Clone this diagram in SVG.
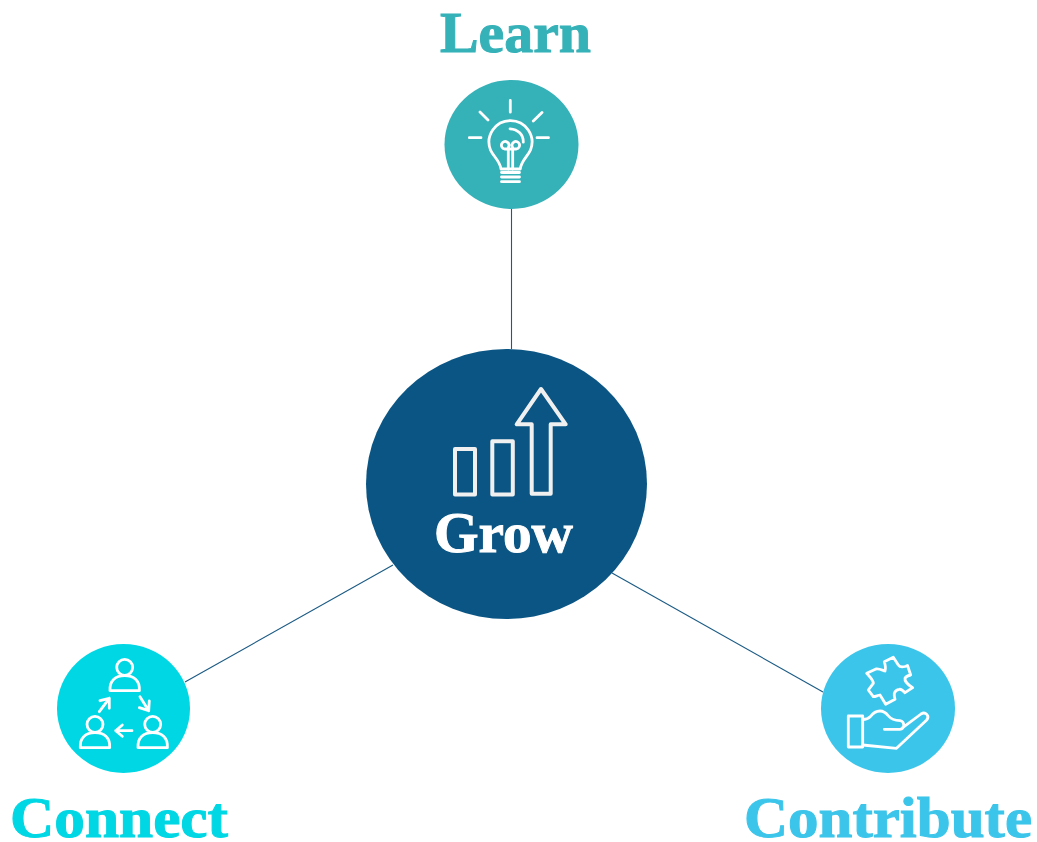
<svg xmlns="http://www.w3.org/2000/svg" width="1037" height="842" viewBox="0 0 1037 842">
<style>
.ico{fill:none;stroke:#fff;stroke-width:2.800;stroke-linecap:round;stroke-linejoin:round}
.link{stroke:#1a5a84;stroke-width:1.100;fill:none}
.lbl{font-family:"Liberation Serif","DejaVu Serif",serif;font-weight:700;stroke-width:1;paint-order:stroke}
</style>
<defs>
<g id="person"><circle cx="0" cy="0" r="8"/><path d="M-14.700 23.300C-15.200 13 -9 8.300 0 8.300S15.200 13 14.700 23.300Z"/></g>
</defs>
<rect width="1037" height="842" fill="#fff"/>
<g id="connectors">
<line class="link" x1="511.500" y1="209" x2="511.500" y2="349"/>
<line class="link" x1="393" y1="565" x2="185" y2="682"/>
<line class="link" x1="612" y1="573" x2="823" y2="692"/>
</g>
<g id="learn">
<text class="lbl" x="515.500" y="52" font-size="57" fill="#35b1b8" stroke="#35b1b8" text-anchor="middle" textLength="151" lengthAdjust="spacingAndGlyphs">Learn</text>
<ellipse cx="511.500" cy="144.500" rx="67" ry="64.500" fill="#35b1b8"/>
<g class="ico">
<path d="M510.300 100.500V112.200M480 112L488 120M542 112.500L533.300 121M469.300 137.700H481M537 137.700H548.500"/>
<path d="M501 169C500 161 493 156 490.500 150A21.500 21.500 0 1 1 530.500 150C528 156 521 161 520.300 169Z"/>
<path d="M501.500 172.500H519.500M501.500 177H519.500M501.500 181.700H519.500"/>
<path d="M510 128.800C518 129.300 523.500 134.500 523.300 142.200"/>
<path d="M508.300 169V147.500A3.800 3.800 0 1 0 504.500 149H516.500A3.800 3.800 0 1 0 512.700 147.500V169"/>
</g>
</g>
<g id="grow">
<ellipse cx="506.500" cy="484" rx="140.500" ry="135" fill="#0a5584"/>
<g fill="none" stroke="#f0f0f0" stroke-width="4" stroke-linejoin="round">
<rect x="455" y="449" width="20" height="45.500"/>
<rect x="492.300" y="441.300" width="20.500" height="53.200"/>
<path d="M541 389L516.700 424.300H531.700V493.800H550.700V424.300H565.700Z"/>
</g>
<text class="lbl" x="503.500" y="552" font-size="58" fill="#fff" stroke="#fff" text-anchor="middle" textLength="139" lengthAdjust="spacingAndGlyphs">Grow</text>
</g>
<g id="connect">
<text class="lbl" x="119" y="837" font-size="57" fill="#00d7e4" stroke="#00d7e4" text-anchor="middle" textLength="218" lengthAdjust="spacingAndGlyphs">Connect</text>
<ellipse cx="123.500" cy="708.500" rx="66.500" ry="64.500" fill="#00d7e4"/>
<g class="ico">
<use href="#person" x="124.700" y="667.300"/>
<use href="#person" x="95" y="724.300"/>
<use href="#person" x="152.700" y="724.300"/>
<path d="M99.300 711.700L109.300 698.300M100 700.700L109.300 698.300L109.300 708.300"/>
<path d="M140 696.700L148.700 710.700M139.300 707.700L148.700 710.700L149.300 701"/>
<path d="M132 730.700H115.700M122.300 725L115.700 730.700L122.300 736.300"/>
</g>
</g>
<g id="contribute">
<text class="lbl" x="888" y="837" font-size="57" fill="#3cc5ea" stroke="#3cc5ea" text-anchor="middle" textLength="288" lengthAdjust="spacingAndGlyphs">Contribute</text>
<ellipse cx="888" cy="708.500" rx="67" ry="64.500" fill="#3cc5ea"/>
<g class="ico" stroke-width="3">
<rect x="848.300" y="716" width="14.400" height="31"/>
<path d="M862.700 719.500C866 719.500 868.500 718.500 870.500 716.500C873 713 876 711 880 711C884 711 886.500 713.500 888.500 716C891 719 895 720.500 900 720.700C905 721.500 905 729.300 900 729.300H884.300M901.700 728.300L921 714C925.500 711 930 716 926.700 720L896.500 748.300L862.700 745"/>
<path d="M866.700 673.300L876 669C879 668.500 882 670 885 671C886 668 885 664 884.300 661.700L893.300 657.300L898.300 665C900 667.500 903 667 905 666.500L907.500 665.500L910.700 675C908 675.500 906 676.500 905 678.300C904.500 681 908 685 912.700 687.700L905 692.700C903 690.500 901 689 899.300 689.300C897 689.500 895 691 894.300 693.300C894 695.500 894.500 697.500 895 699.300L885.700 704.300L880 695C877.500 695.500 875.500 696.500 873.300 696.700L868.300 690L873.300 683.300C873.500 680 870 677 866.700 673.300Z"/>
</g>
</g>
</svg>
